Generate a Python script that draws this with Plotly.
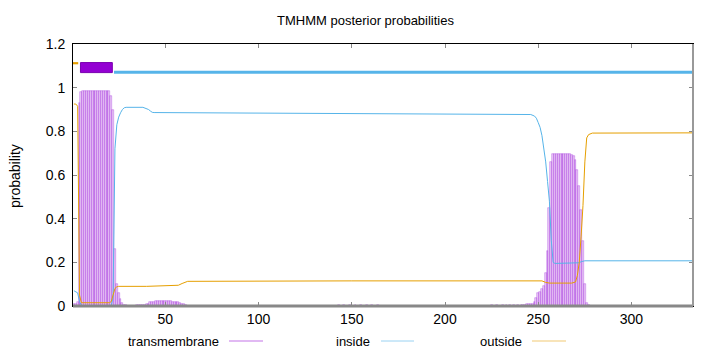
import plotly.graph_objects as go

# ---------------- data ----------------
# transmembrane posterior probability per residue (only residues with visible bars)
tm_pos = [1, 2, 3, 4, 5, 6, 7, 8, 9, 10, 11, 12, 13, 14, 15, 16, 17, 18, 19, 20,
          21, 22, 23, 24, 25, 26, 27, 28, 29,
          35, 36, 37, 38, 39, 40, 41, 42, 43, 44, 45, 46, 47, 48, 49, 50, 51, 52,
          53, 54, 55, 56, 57, 58, 59, 60, 61,
          143, 146, 149, 152, 155, 158, 161, 164,
          213, 216, 219, 222, 225, 228, 231, 233, 235, 237, 239, 241, 242, 243, 244,
          245, 246, 247, 248, 249, 250, 251, 252, 253, 254, 255, 256, 257, 258, 259,
          260, 261, 262, 263, 264, 265, 266, 267, 268, 269, 270, 271, 272, 273, 274,
          275, 276, 277]
tm_val = [0.01, 0.01, 0.02, 0.93, 0.98, 0.985, 0.985, 0.985, 0.985, 0.985, 0.985,
          0.985, 0.985, 0.985, 0.985, 0.985, 0.985, 0.985, 0.984, 0.983,
          0.96, 0.90, 0.26, 0.10, 0.06, 0.03, 0.012, 0.005, 0.003,
          0.004, 0.005, 0.005, 0.006, 0.006, 0.007, 0.008, 0.018, 0.02, 0.02, 0.021,
          0.021, 0.021, 0.021, 0.021, 0.021, 0.021, 0.021, 0.021, 0.02, 0.02, 0.02,
          0.019, 0.012, 0.01, 0.007, 0.004,
          0.003, 0.004, 0.004, 0.004, 0.004, 0.004, 0.004, 0.003,
          0.002, 0.002, 0.002, 0.002, 0.003, 0.003, 0.003, 0.004, 0.004, 0.004, 0.005,
          0.006, 0.006, 0.006, 0.007, 0.007, 0.008, 0.01, 0.02, 0.037, 0.06, 0.066,
          0.08, 0.09, 0.15, 0.25, 0.45, 0.66, 0.695, 0.697, 0.697, 0.697, 0.697,
          0.697, 0.697, 0.697, 0.697, 0.697, 0.693, 0.686, 0.67, 0.625, 0.548, 0.44,
          0.30, 0.10, 0.014, 0.005]

# inside probability (vertices of the line)
inside_pos = [1, 2, 3, 4, 5, 6, 21, 22, 23, 24, 25, 26, 27, 28, 29, 38, 40, 41, 42,
              43, 44, 100, 150, 200, 240, 246, 248, 249, 250, 251, 252, 253, 254,
              255, 256, 257, 258, 259, 271, 272, 273, 275, 333]
inside_val = [0.07, 0.065, 0.06, 0.02, 0.003, 0.0, 0.0, 0.04, 0.72, 0.83, 0.865,
              0.885, 0.90, 0.908, 0.91, 0.91, 0.905, 0.90, 0.893, 0.887, 0.886,
              0.884, 0.883, 0.881, 0.879, 0.877, 0.87, 0.86, 0.84, 0.818, 0.78,
              0.725, 0.66, 0.57, 0.48, 0.30, 0.20, 0.195, 0.195, 0.198, 0.203,
              0.207, 0.207]

# outside probability (vertices of the line)
outside_pos = [1, 2, 3, 4, 5, 20, 21, 22, 23, 24, 25, 40, 55, 57, 59, 61, 62, 150,
               252, 254, 256, 268, 269, 270, 271, 272, 273, 274, 275, 276, 277, 279,
               333]
outside_val = [0.925, 0.925, 0.915, 0.05, 0.015, 0.015, 0.02, 0.05, 0.08, 0.088,
               0.09, 0.09, 0.092, 0.095, 0.103, 0.11, 0.113, 0.115, 0.115, 0.108,
               0.105, 0.105, 0.108, 0.11, 0.14, 0.20, 0.32, 0.46, 0.66, 0.77,
               0.785, 0.792, 0.793]

# predicted topology
topo_start = [1, 5, 22]
topo_end = [4, 21, 333]
topo_kind = ["outside", "TMhelix", "inside"]

title_text = "TMHMM posterior probabilities"
legend_names = ["transmembrane", "inside", "outside"]
x_ticks = [50, 100, 150, 200, 250, 300]

# ---------------- styling ----------------
PURPLE = "#9400d3"
BLUE = "#56b4e9"
ORANGE = "#e69f00"
FONT = "Liberation Sans"

W, H = 720, 352
L, R, T, B = 73, 27, 44, 46
PW = W - L - R
PH = H - T - B


def px_x(p):
    return (p - L) / PW


def px_y(p):
    return (H - B - p) / PH


fig = go.Figure()

fig.add_trace(go.Bar(
    x=tm_pos, y=tm_val, width=1.0,
    marker=dict(color="rgba(148,0,211,0.2)",
                line=dict(color="rgba(165,50,220,0.6)", width=0.6)),
    showlegend=False, hoverinfo="skip"))

fig.add_trace(go.Scatter(x=inside_pos, y=inside_val, mode="lines",
                         line=dict(color=BLUE, width=1), showlegend=False))
fig.add_trace(go.Scatter(x=outside_pos, y=outside_val, mode="lines",
                         line=dict(color=ORANGE, width=1), showlegend=False))

# topology bar at the top
for s, e, k in zip(topo_start, topo_end, topo_kind):
    if k == "TMhelix":
        x0, x1 = s - 0.5, e + 0.6
        fig.add_trace(go.Scatter(x=[x0, x1, x1, x0, x0],
                                 y=[1.069, 1.069, 1.115, 1.115, 1.069],
                                 mode="lines", fill="toself", fillcolor=PURPLE,
                                 line=dict(color="#7a00b0", width=1),
                                 showlegend=False))
    elif k == "outside":
        fig.add_trace(go.Scatter(x=[s - 0.5, e - 0.7], y=[1.112, 1.112],
                                 mode="lines", line=dict(color=ORANGE, width=2.2),
                                 showlegend=False))
    else:
        fig.add_trace(go.Scatter(x=[s + 0.5, e + 0.5], y=[1.071, 1.071],
                                 mode="lines", line=dict(color=BLUE, width=3),
                                 showlegend=False))

axis_common = dict(showgrid=False, zeroline=False, showline=True,
                   linecolor="black", linewidth=1, mirror="ticks",
                   ticks="inside", ticklen=4, tickcolor="#888888",
                   tickfont=dict(family=FONT, size=14, color="black"))

fig.update_xaxes(range=[0.5, 333], tickvals=x_ticks, **axis_common)
fig.update_yaxes(range=[0, 1.2], dtick=0.2, tick0=0, ticklabelstandoff=4,
                 **axis_common)

shapes = [
    dict(type="line", xref="paper", yref="paper", x0=0, x1=1, y0=0, y1=0,
         line=dict(color="#888888", width=3)),
    dict(type="line", xref="paper", yref="paper", x0=1, x1=1, y0=0, y1=1,
         line=dict(color="#999999", width=2)),
]

annotations = [
    dict(text=title_text, xref="paper", yref="paper", x=px_x(365), y=px_y(20),
         xanchor="center", yanchor="middle", showarrow=False,
         font=dict(family=FONT, size=13, color="black")),
    dict(text="probability", xref="paper", yref="paper", x=px_x(15),
         y=px_y(176), textangle=-90, xanchor="center", yanchor="middle",
         showarrow=False, font=dict(family=FONT, size=14, color="black")),
]

legend_text_right = [221, 372, 524]
legend_line = [(229, 263), (381, 414), (532, 566)]
legend_colors = ["rgba(148,0,211,0.55)", "rgba(86,180,233,0.6)",
                 "rgba(230,159,0,0.55)"]
for name, tx, (l0, l1), c in zip(legend_names, legend_text_right, legend_line,
                                 legend_colors):
    annotations.append(dict(text=name, xref="paper", yref="paper", x=px_x(tx),
                            y=px_y(341), xanchor="right", yanchor="middle",
                            showarrow=False,
                            font=dict(family=FONT, size=13, color="black")))
    shapes.append(dict(type="line", xref="paper", yref="paper", x0=px_x(l0),
                       x1=px_x(l1), y0=px_y(341), y1=px_y(341),
                       line=dict(color=c, width=1)))

fig.update_layout(width=W, height=H, margin=dict(l=L, r=R, t=T, b=B),
                  paper_bgcolor="white", plot_bgcolor="white",
                  showlegend=False, shapes=shapes, annotations=annotations,
                  bargap=0, font=dict(family=FONT))

fig.write_html("out.html")
